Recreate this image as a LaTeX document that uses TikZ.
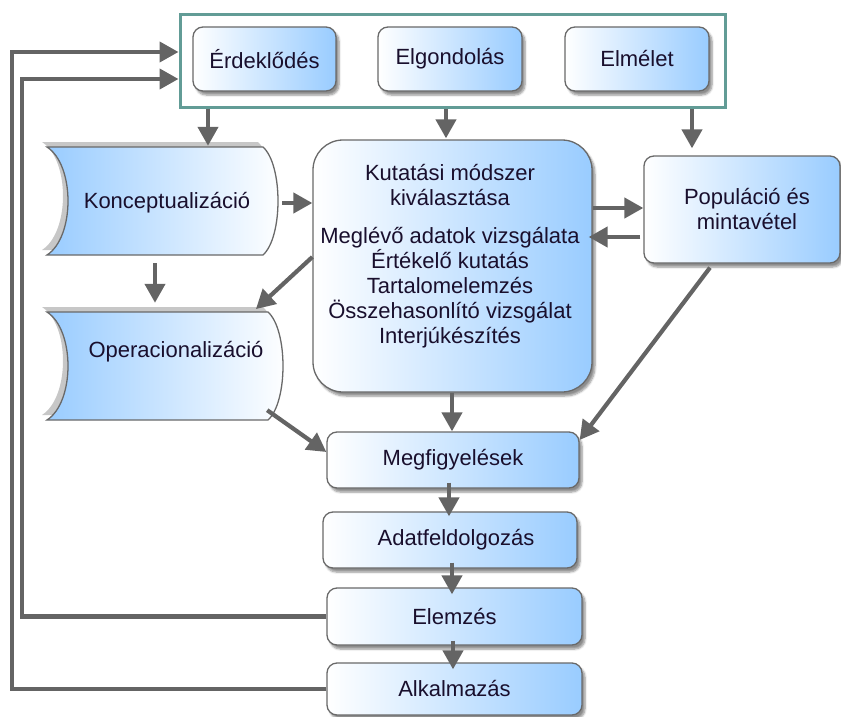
\documentclass[tikz,border=0pt]{standalone}
\usepackage{fontspec}
\setmainfont{Liberation Sans}
\usetikzlibrary{arrows.meta,shadows.blur,calc}
\definecolor{boxblue}{RGB}{153,204,255}
\definecolor{edgegray}{RGB}{105,105,105}
\definecolor{arrgray}{RGB}{100,100,100}
\definecolor{frameteal}{RGB}{98,156,150}
\definecolor{txtcol}{RGB}{25,15,45}
\newcommand\datashapepath[4]{(#1,#2) .. controls ({#1+28},{#2+18}) and ({#1+28},{#4-18}) .. (#1,#4) -- ({#3-15},#4) .. controls ({#3+5},{#4-18}) and ({#3+5},{#2+18}) .. ({#3-15},#2) -- cycle}
\tikzset{
  lbl/.style={text=txtcol, font=\fontsize{22}{25}\selectfont, inner sep=0pt, align=center},
  box/.style={lbl, draw=edgegray, line width=1.3pt, rounded corners=10pt,
    left color=white, right color=boxblue,
    blur shadow={shadow xshift=3pt, shadow yshift=-4pt, shadow blur steps=6, shadow opacity=45}},
  databox/.style={draw=edgegray, line width=1.3pt, left color=boxblue, right color=white},
  datashadow/.style={fill=black!22},
  arr/.style={draw=arrgray, line width=4.2pt, line join=miter, -{Triangle[length=19pt,width=20pt]}}
}
\begin{document}
\begin{tikzpicture}[x=1pt,y=-1pt]
\useasboundingbox (0,0) rectangle (841,717);

% top frame and boxes
\node[draw=frameteal, line width=3pt, minimum width=545pt, minimum height=92pt, inner sep=0pt] (frame) at (452.5,61) {};
\node[box, minimum width=143pt, minimum height=64pt] (erd) at (264.5,59) {Érdeklődés};
\node[box, minimum width=144pt, minimum height=64pt] (elg) at (450,59) {Elgondolás};
\node[box, minimum width=144pt, minimum height=64pt] (elm) at (637,59) {Elmélet};

% stored-data shapes
\fill[datashadow, xshift=-5pt, yshift=5pt] \datashapepath{47}{147}{278}{255};
\path[databox] \datashapepath{47}{147}{278}{255};
\fill[datashadow, xshift=-5pt, yshift=5pt] \datashapepath{47}{312}{283}{420};
\path[databox] \datashapepath{47}{312}{283}{420};
\node[inner sep=0pt, minimum width=231pt, minimum height=108pt] (konc) at (162.5,201) {};
\node[inner sep=0pt, minimum width=236pt, minimum height=108pt] (oper) at (165,366) {};
\node[lbl] (konctext) at (167,203) {Konceptualizáció};
\node[lbl] (opertext) at (176,352) {Operacionalizáció};

% method box
\node[box, rounded corners=30pt, minimum width=279pt, minimum height=252pt] (kut) at (452.5,266) {};
\node[lbl] (kuttext) at (450,256) {Kutatási módszer\\kiválasztása\\[13pt]Meglévő adatok vizsgálata\\Értékelő kutatás\\Tartalomelemzés\\Összehasonlító vizsgálat\\Interjúkészítés};

\node[box, minimum width=196pt, minimum height=107pt] (pop) at (742,209.5) {\hspace*{10pt}Populáció és\\\hspace*{10pt}mintavétel};

% lower chain
\node[box, minimum width=252pt, minimum height=56pt] (megf) at (453,460) {Megfigyelések};
\node[box, minimum width=254pt, minimum height=56pt] (adat) at (450,540) {\hspace*{12pt}Adatfeldolgozás};
\node[box, minimum width=255pt, minimum height=57pt] (elem) at (454.5,616.5) {Elemzés};
\node[box, minimum width=255pt, minimum height=52pt] (alk) at (454.5,689) {Alkalmazás};

% arrows from the frame
\draw[arr, shorten >=1pt] (frame.south -| 208,0) -- (konc.north -| 208,0);
\draw[arr, shorten >=1pt] (frame.south -| 446,0) -- (kut.north -| 446,0);
\draw[arr, shorten >=7pt] (frame.south -| 692,0) -- (pop.north -| 692,0);

% konc / oper / kut
\draw[arr, shorten <=4pt] (konc.east |- 0,203) -- (kut.west |- 0,203);
\draw[arr, shorten <=8pt, shorten >=9pt] (konc.south -| 155,0) -- (oper.north -| 155,0);
\draw[arr, shorten >=4pt] (kut.west |- 0,257) -- (oper.north -| 253,0);

% kut <-> pop
\draw[arr] (kut.east |- 0,208) -- (pop.west |- 0,208);
\draw[arr, shorten <=3pt, shorten >=-4pt] (pop.west |- 0,237) -- (kut.east |- 0,237);

% into Megfigyelések
\draw[arr, shorten <=5pt] (pop.south -| 713,0) -- (megf.east |- 0,440);
\draw[arr] ($(oper.south east)+(-16,-10)$) -- (megf.west |- 0,452);
\draw[arr] (kut.south -| 452,0) -- (megf.north -| 452,0);

% chain
\draw[arr, shorten <=-6pt, shorten >=-5pt] (megf.south -| 449,0) -- (adat.north -| 449,0);
\draw[arr, shorten <=-6pt, shorten >=-7pt] (adat.south -| 452,0) -- (elem.north -| 452,0);
\draw[arr, shorten <=-5pt, shorten >=-7pt] (elem.south -| 453,0) -- (alk.north -| 453,0);

% feedback loops
\draw[arr] (elem.west) -| (22,79) -- (frame.west |- 0,79);
\draw[arr] (alk.west) -| (12,52) -- (frame.west |- 0,52);
\end{tikzpicture}
\end{document}
